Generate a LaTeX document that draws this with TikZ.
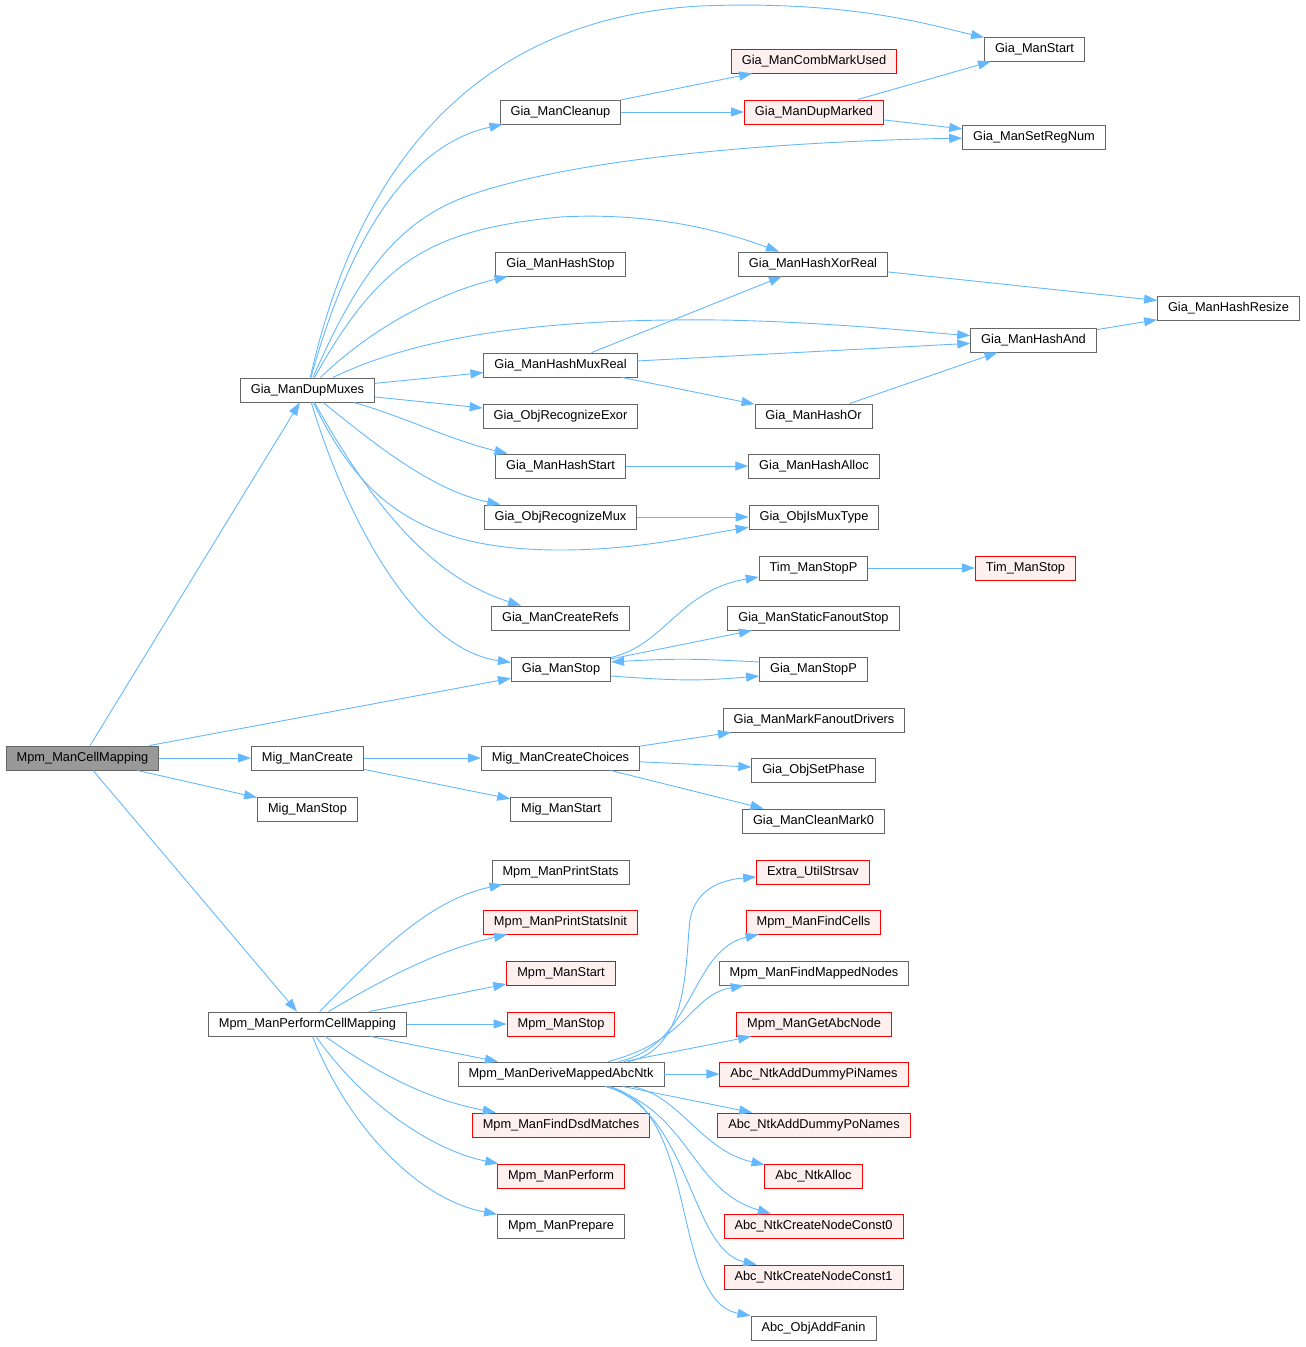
\documentclass[tikz,border=0pt]{standalone}
\usepackage{fontspec}
\setmainfont{Liberation Sans}
\usetikzlibrary{arrows.meta}
\definecolor{linkblue}{HTML}{63B8FF}
\definecolor{boxgray}{HTML}{666666}
\definecolor{redfill}{HTML}{FFF0F0}
\definecolor{rootfill}{HTML}{999999}
\tikzset{
  fn/.style={draw=boxgray,fill=white,line width=0.9pt,minimum height=24pt,
    inner xsep=10.5pt,inner ysep=0pt,font=\fontsize{12.8}{14}\selectfont},
  fnred/.style={fn,draw=red,fill=redfill},
  fnroot/.style={fn,fill=rootfill},
  call/.style={draw=linkblue,color=linkblue,line width=0.9pt,
    -{Triangle[length=13pt,width=9pt]}}
}
\begin{document}
\begin{tikzpicture}[x=1pt,y=-1pt]
\useasboundingbox (0,0) rectangle (1306,1347);
% column 0 and 1
\node[fnroot] (cellmap) at (82.5,758) {Mpm\_ManCellMapping};
\node[fn] (dupmux) at (307.5,390) {Gia\_ManDupMuxes};
\node[fn] (migcreate) at (307.5,758) {Mig\_ManCreate};
\node[fn] (migstop) at (307.5,809) {Mig\_ManStop};
\node[fn] (perform) at (307.5,1024) {Mpm\_ManPerformCellMapping};
% column 2
\node[fn] (cleanup) at (560.5,112) {Gia\_ManCleanup};
\node[fn] (hashstop) at (560.5,264) {Gia\_ManHashStop};
\node[fn] (muxreal) at (560.5,365) {Gia\_ManHashMuxReal};
\node[fn] (recexor) at (560.5,416) {Gia\_ObjRecognizeExor};
\node[fn] (hashstart) at (560.5,466) {Gia\_ManHashStart};
\node[fn] (recmux) at (560.5,517) {Gia\_ObjRecognizeMux};
\node[fn] (createrefs) at (560.5,618) {Gia\_ManCreateRefs};
\node[fn] (giastop) at (561,669) {Gia\_ManStop};
\node[fn] (choices) at (560.5,758) {Mig\_ManCreateChoices};
\node[fn] (migstart) at (561,809) {Mig\_ManStart};
\node[fn] (prstats) at (560.5,872) {Mpm\_ManPrintStats};
\node[fnred] (prinit) at (560.5,922) {Mpm\_ManPrintStatsInit};
\node[fnred] (mpmstart) at (561,973) {Mpm\_ManStart};
\node[fnred] (mpmstop) at (561,1024) {Mpm\_ManStop};
\node[fn] (derive) at (561,1074) {Mpm\_ManDeriveMappedAbcNtk};
\node[fnred] (finddsd) at (561,1125) {Mpm\_ManFindDsdMatches};
\node[fnred] (mpmperf) at (561,1176) {Mpm\_ManPerform};
\node[fn] (prepare) at (561,1226) {Mpm\_ManPrepare};
% column 3
\node[fnred] (combmark) at (814,61) {Gia\_ManCombMarkUsed};
\node[fnred] (dupmarked) at (814,112) {Gia\_ManDupMarked};
\node[fn] (xorreal) at (813,264) {Gia\_ManHashXorReal};
\node[fn] (hashor) at (813.5,416) {Gia\_ManHashOr};
\node[fn] (hashalloc) at (814,466) {Gia\_ManHashAlloc};
\node[fn] (ismux) at (814,517) {Gia\_ObjIsMuxType};
\node[fn] (timstopp) at (813.5,568) {Tim\_ManStopP};
\node[fn] (fanoutstop) at (813.5,618) {Gia\_ManStaticFanoutStop};
\node[fn] (giastopp) at (813.5,669) {Gia\_ManStopP};
\node[fn] (markdrv) at (814,720) {Gia\_ManMarkFanoutDrivers};
\node[fn] (setphase) at (813.5,770) {Gia\_ObjSetPhase};
\node[fn] (cleanmark) at (813.5,821) {Gia\_ManCleanMark0};
\node[fnred] (strsav) at (813,872) {Extra\_UtilStrsav};
\node[fnred] (findcells) at (813.5,922) {Mpm\_ManFindCells};
\node[fn] (findmapped) at (814,973) {Mpm\_ManFindMappedNodes};
\node[fnred] (getabc) at (814,1024) {Mpm\_ManGetAbcNode};
\node[fnred] (pinames) at (814,1074) {Abc\_NtkAddDummyPiNames};
\node[fnred] (ponames) at (814,1125) {Abc\_NtkAddDummyPoNames};
\node[fnred] (ntkalloc) at (813.5,1176) {Abc\_NtkAlloc};
\node[fnred] (const0) at (813.5,1226) {Abc\_NtkCreateNodeConst0};
\node[fnred] (const1) at (813.5,1277) {Abc\_NtkCreateNodeConst1};
\node[fn] (addfanin) at (813.5,1328) {Abc\_ObjAddFanin};
% column 4 and 5
\node[fn] (giastart) at (1034.5,49) {Gia\_ManStart};
\node[fn] (setreg) at (1034,137) {Gia\_ManSetRegNum};
\node[fn] (hashand) at (1033.5,340) {Gia\_ManHashAnd};
\node[fnred] (timstop) at (1025.5,568) {Tim\_ManStop};
\node[fn] (resize) at (1228.5,308) {Gia\_ManHashResize};

% straight calls
\path[call]
(cellmap) edge (dupmux)
(cellmap) edge (giastop)
(cellmap) edge (migcreate)
(cellmap) edge (migstop)
(cellmap) edge (perform)
(dupmux) edge (muxreal)
(dupmux) edge (recexor)
(cleanup) edge (combmark)
(cleanup) edge (dupmarked)
(dupmarked) edge (giastart)
(dupmarked) edge (setreg)
(xorreal) edge (resize)
(hashand) edge (resize)
(muxreal) edge (xorreal)
(muxreal) edge (hashand)
(muxreal) edge (hashor)
(hashor) edge (hashand)
(hashstart) edge (hashalloc)
(recmux) edge (ismux)
(giastop) edge (fanoutstop)
(timstopp) edge (timstop)
(migcreate) edge (choices)
(migcreate) edge (migstart)
(choices) edge (markdrv)
(choices) edge (setphase)
(choices) edge (cleanmark)
(perform) edge (mpmstart)
(perform) edge (mpmstop)
(perform) edge (derive)
(derive) edge (getabc)
(derive) edge (pinames)
(derive) edge (ponames);

% curved calls
\draw[call] (dupmux) .. controls (350,200) and (450,20) .. (700,6) .. controls (850,0) and (930,25) .. (giastart);
\draw[call] (dupmux) .. controls (360,200) and (430,140) .. (cleanup);
\draw[call] (dupmux) .. controls (360,270) and (400,220) .. (470,195) .. controls (600,150) and (850,140) .. (setreg);
\draw[call] (dupmux) .. controls (380,260) and (430,230) .. (560,217) .. controls (650,212) and (720,230) .. (xorreal);
\draw[call] (dupmux) .. controls (380,320) and (450,290) .. (hashstop);
\draw[call] (dupmux) .. controls (420,335) and (550,318) .. (720,320) .. controls (830,322) and (920,332) .. (hashand);
\draw[call] (dupmux) .. controls (400,415) and (450,440) .. (hashstart);
\draw[call] (dupmux) .. controls (370,440) and (430,490) .. (recmux);
\draw[call] (dupmux) .. controls (360,500) and (420,550) .. (560,550) .. controls (640,550) and (700,535) .. (ismux);
\draw[call] (dupmux) .. controls (380,520) and (440,580) .. (createrefs);
\draw[call] (dupmux) .. controls (350,530) and (420,650) .. (giastop);
\draw[call] (giastop) .. controls (665,645) and (680,590) .. (timstopp);
\draw[call] ([yshift=-7pt]giastop.east) .. controls (680,681) and (700,681) .. ([yshift=-7pt]giastopp.west);
\draw[call] ([yshift=7pt]giastopp.west) .. controls (700,659) and (680,658) .. ([yshift=7pt]giastop.east);
\draw[call] (perform) .. controls (380,950) and (430,900) .. (prstats);
\draw[call] (perform) .. controls (390,975) and (440,950) .. (prinit);
\draw[call] (perform) .. controls (380,1075) and (430,1100) .. (finddsd);
\draw[call] (perform) .. controls (360,1100) and (430,1150) .. (mpmperf);
\draw[call] (perform) .. controls (350,1130) and (420,1200) .. (prepare);
\draw[call] (derive) .. controls (690,1050) and (685,960) .. (690,920) .. controls (695,890) and (720,880) .. (strsav);
\draw[call] (derive) .. controls (695,1045) and (690,950) .. (findcells);
\draw[call] (derive) .. controls (690,1040) and (690,995) .. (findmapped);
\draw[call] (derive) .. controls (680,1095) and (700,1150) .. (ntkalloc);
\draw[call] (derive) .. controls (690,1110) and (690,1190) .. (const0);
\draw[call] (derive) .. controls (690,1110) and (690,1250) .. (const1);
\draw[call] (derive) .. controls (700,1110) and (670,1300) .. (addfanin);
\end{tikzpicture}
\end{document}
